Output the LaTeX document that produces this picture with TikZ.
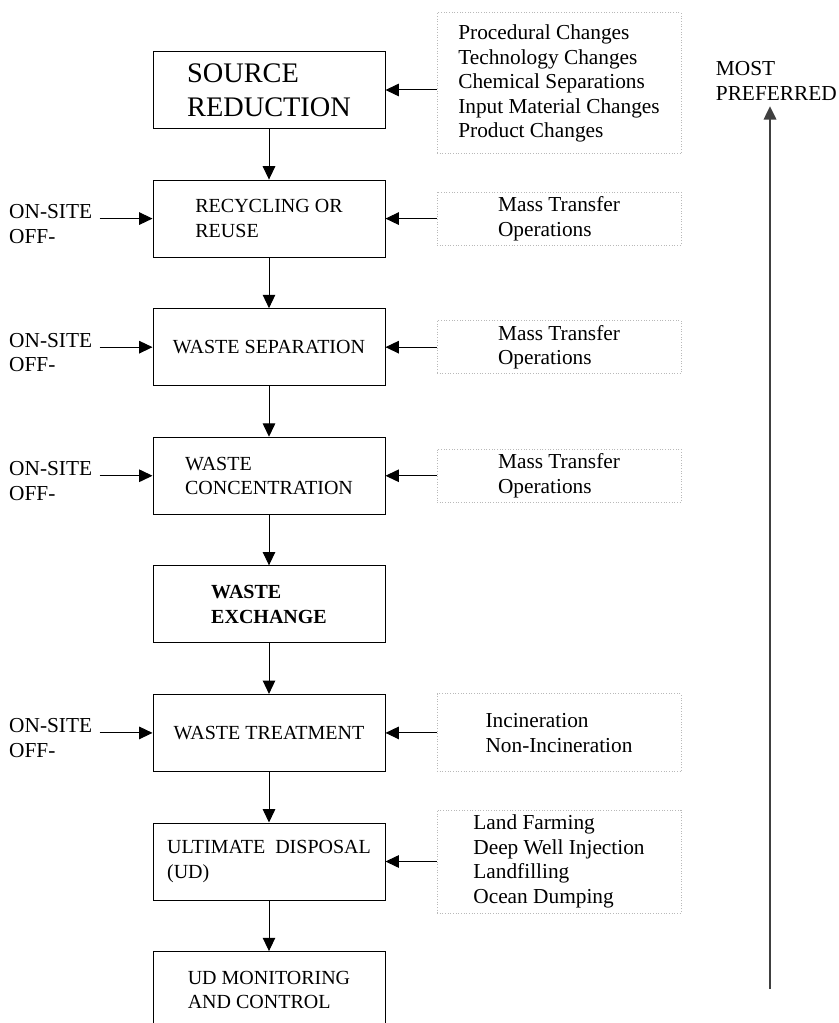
\documentclass[tikz,border=0pt]{standalone}
\usepackage{fontspec}
\setmainfont{Liberation Serif}
\usetikzlibrary{positioning, arrows.meta}

\begin{document}
\begin{tikzpicture}[x=0.6pt, y=-0.6pt, node distance=30.35pt,
		font=\fontsize{12.8}{14.7}\selectfont,
		stage/.style={rectangle, draw, line width=0.6pt, minimum width=139.2pt, minimum height=46.2pt, align=left, font=\fontsize{12}{14.7}\selectfont},
		method/.style={rectangle, draw=gray!55, densely dotted, line width=0.6pt, minimum width=146.4pt, align=left, inner ysep=0pt},
		sitelbl/.style={inner xsep=4.2pt},
		flow/.style={-{Triangle[length=8pt, width=7.5pt]}, line width=0.6pt}]
			\useasboundingbox (0,0) rectangle (839,1023);
			% Define the nodes
			\node (src) [stage, font=\fontsize{17}{20.4}\selectfont] at (269,90) {SOURCE\\REDUCTION};
			\node (rec) [stage, below=of src] {RECYCLING OR\\REUSE};
			\node (sep) [stage, below=of rec] {WASTE SEPARATION};
			\node (conc) [stage, below=of sep] {WASTE\\CONCENTRATION};
			\node (exch) [stage, below=of conc, font=\fontsize{12}{14.7}\selectfont\bfseries] {WASTE\\EXCHANGE};
			\node (treat) [stage, below=of exch] {WASTE TREATMENT};
			\node (disp) [stage, below=of treat] {ULTIMATE\ \ DISPOSAL\\(UD)};
			\node (mon) [stage, below=of disp] {UD MONITORING\\AND CONTROL};
			% Options on the right
			\node (srcopt) [method, right=30.6pt of src, yshift=3.9pt, minimum height=84.6pt] {Procedural Changes\\Technology Changes\\Chemical Separations\\Input Material Changes\\Product Changes};
			\node (recopt) [method, right=30.6pt of rec, minimum height=31.8pt] {Mass Transfer\\Operations};
			\node (sepopt) [method, right=30.6pt of sep, minimum height=31.8pt] {Mass Transfer\\Operations};
			\node (concopt) [method, right=30.6pt of conc, minimum height=31.8pt] {Mass Transfer\\Operations};
			\node (treatopt) [method, right=30.6pt of treat, minimum height=46.8pt] {Incineration\\Non-Incineration};
			\node (dispopt) [method, right=30.6pt of disp, minimum height=61.8pt] {Land Farming\\Deep Well Injection\\Landfilling\\Ocean Dumping};
			% On-site / off- labels on the left
			\node (recon) [sitelbl, left=31.8pt of rec.west, anchor=base east] {ON-SITE};
			\node (recoff) [sitelbl, anchor=base west] at ([yshift=-14.7pt]recon.base west) {OFF-};
			\node (sepon) [sitelbl, left=31.8pt of sep.west, anchor=base east] {ON-SITE};
			\node (sepoff) [sitelbl, anchor=base west] at ([yshift=-14.7pt]sepon.base west) {OFF-};
			\node (concon) [sitelbl, left=31.8pt of conc.west, anchor=base east] {ON-SITE};
			\node (concoff) [sitelbl, anchor=base west] at ([yshift=-14.7pt]concon.base west) {OFF-};
			\node (treaton) [sitelbl, left=31.8pt of treat.west, anchor=base east] {ON-SITE};
			\node (treatoff) [sitelbl, anchor=base west] at ([yshift=-14.7pt]treaton.base west) {OFF-};
			% Preference scale
			\node (pref) [align=left, anchor=west] at (710,81) {MOST\\PREFERRED};
			\coordinate (least) at (770,989);
			% Connect the nodes
			\draw [flow] (src) -- (rec);
			\draw [flow] (rec) -- (sep);
			\draw [flow] (sep) -- (conc);
			\draw [flow] (conc) -- (exch);
			\draw [flow] (exch) -- (treat);
			\draw [flow] (treat) -- (disp);
			\draw [flow] (disp) -- (mon);
			\draw [flow] (srcopt.west |- src.east) -- (src.east);
			\draw [flow] (recopt) -- (rec);
			\draw [flow] (sepopt) -- (sep);
			\draw [flow] (concopt) -- (conc);
			\draw [flow] (treatopt) -- (treat);
			\draw [flow] (dispopt) -- (disp);
			\draw [flow] (recon.east |- rec.west) -- (rec.west);
			\draw [flow] (sepon.east |- sep.west) -- (sep.west);
			\draw [flow] (concon.east |- conc.west) -- (conc.west);
			\draw [flow] (treaton.east |- treat.west) -- (treat.west);
			\draw [flow, draw=darkgray, line width=1.1pt] (least) -- (least |- pref.south);
		\end{tikzpicture}
\end{document}
